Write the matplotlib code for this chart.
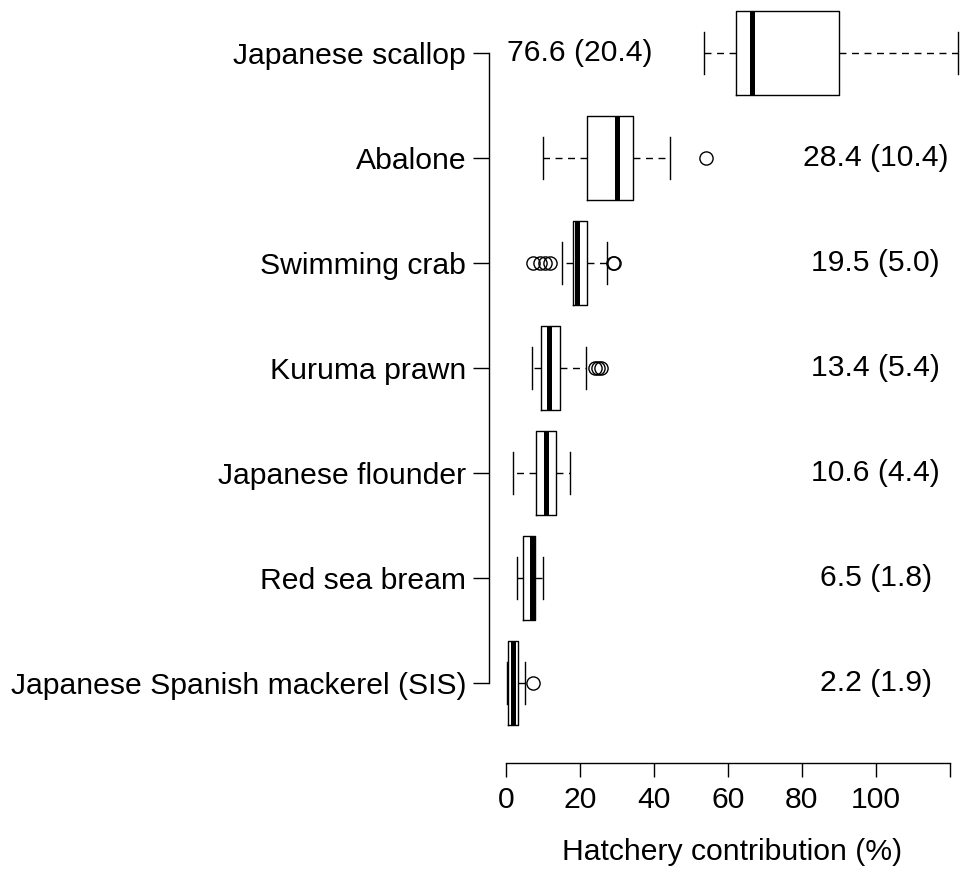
import matplotlib
matplotlib.use("Agg")
import matplotlib.pyplot as plt

plt.rcParams['font.family'] = ['Liberation Sans', 'DejaVu Sans']

# Categories listed top to bottom
categories = ["Japanese scallop", "Abalone", "Swimming crab", "Kuruma prawn",
              "Japanese flounder", "Red sea bream", "Japanese Spanish mackerel (SIS)"]
whislo = [53.5, 9.85, 15.0, 6.9, 1.7, 3.0, 0.1]
q1     = [62.2, 21.9, 18.0, 9.4, 8.0, 4.6, 0.5]
med    = [66.4, 30.0, 19.2, 11.6, 10.7, 7.0, 1.9]
q3     = [90.1, 34.4, 21.9, 14.6, 13.4, 7.8, 3.3]
whishi = [122.4, 44.3, 27.2, 21.6, 17.2, 9.85, 5.1]
fliers = [[], [54.1], [7.3, 9.1, 10.5, 11.8, 28.8, 29.1], [24.0, 24.9, 25.6],
          [], [], [7.3]]
mean_sd_labels = ["76.6 (20.4)", "28.4 (10.4)", "19.5 (5.0)", "13.4 (5.4)",
                  "10.6 (4.4)", "6.5 (1.8)", "2.2 (1.9)"]
label_x = [20, 100, 100, 100, 100, 100, 100]
xticks = [0, 20, 40, 60, 80, 100, 120]
xticklabels = ["0", "20", "40", "60", "80", "100", ""]

FS = 21.7
W, H = 960, 875
fig = plt.figure(figsize=(W / 100, H / 100), dpi=100)
ax = fig.add_axes([489 / W, (H - 762.7) / H, (W - 489) / W, 762.7 / H])

n = len(categories)
positions = [n - i for i in range(n)]
stats = []
for i in range(n):
    stats.append(dict(med=med[i], q1=q1[i], q3=q3[i], whislo=whislo[i],
                      whishi=whishi[i], fliers=fliers[i], label=categories[i]))

arts = ax.bxp(stats, positions=positions, widths=0.8, capwidths=0.4,
              orientation='horizontal', showfliers=True,
              boxprops=dict(color='black', linewidth=1.0),
              whiskerprops=dict(color='black', linewidth=1.0, linestyle=(0, (5, 4))),
              capprops=dict(color='black', linewidth=1.0),
              medianprops=dict(color='black', linewidth=3.6, solid_capstyle='butt'),
              flierprops=dict(marker='o', markerfacecolor='none', markeredgecolor='black',
                              markersize=9.5, markeredgewidth=1.0, linestyle='none'))
for key in arts:
    for a in arts[key]:
        a.set_clip_on(False)

for i in range(n):
    ax.text(label_x[i], positions[i], mean_sd_labels[i], ha='center', va='center',
            fontsize=FS, color='black')

ax.set_xlim((489 - 506.3) / 3.694, (960 - 506.3) / 3.694)
ax.set_ylim(1 - (762.7 - 683) / 105.0, 7 + 53 / 105.0)

ax.spines['top'].set_visible(False)
ax.spines['right'].set_visible(False)
ax.spines['left'].set_bounds(1, 7)
ax.spines['bottom'].set_bounds(0, 120)
for s in ('left', 'bottom'):
    ax.spines[s].set_linewidth(1.0)

ax.set_yticks(positions)
ax.set_yticklabels(categories, fontsize=FS)
ax.set_xticks(xticks)
ax.set_xticklabels(xticklabels, fontsize=FS)
ax.tick_params(axis='y', length=11.5, width=1.0, pad=5, direction='out')
ax.tick_params(axis='x', length=10, width=1.0, pad=7, direction='out')
ax.patch.set_visible(False)

fig.text(731.7 / W, 1 - 852 / H, "Hatchery contribution (%)", ha='center', va='center',
         fontsize=FS)

fig.savefig("out.png", dpi=100, facecolor='white')
